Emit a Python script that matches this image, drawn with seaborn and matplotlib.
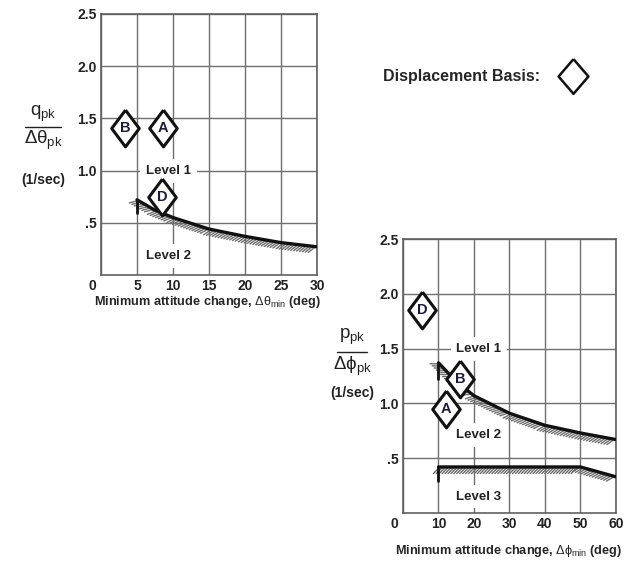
import matplotlib
matplotlib.use("Agg")
import matplotlib.pyplot as plt
import matplotlib.patheffects as pe
from matplotlib.lines import Line2D
from matplotlib.transforms import ScaledTranslation
import numpy as np
import seaborn as sns

# pitch chart (top left)
pitch_curve_x = [5, 7.5, 10, 15, 20, 25, 30]
pitch_curve_y = [0.72, 0.62, 0.55, 0.44, 0.37, 0.31, 0.27]
pitch_hook_x = [5, 5]
pitch_hook_y = [0.59, 0.72]
pitch_pts = ["B", "A", "D"]
pitch_x = [3.3, 8.6, 8.5]
pitch_y = [1.41, 1.41, 0.75]

# roll chart (bottom right)
roll_l1_x = [10, 15, 20, 30, 40, 50, 60]
roll_l1_y = [1.37, 1.20, 1.07, 0.91, 0.80, 0.73, 0.67]
roll_l1_hook_x = [10, 10]
roll_l1_hook_y = [1.22, 1.37]
roll_l2_x = [10, 50, 60]
roll_l2_y = [0.42, 0.42, 0.33]
roll_l2_hook_x = [10, 10]
roll_l2_hook_y = [0.29, 0.42]
roll_pts = ["D", "B", "A"]
roll_x = [5.3, 16.0, 12.1]
roll_y = [1.85, 1.22, 0.95]

sns.set_theme(style="white")
plt.rcParams["font.family"] = ["Liberation Sans", "DejaVu Sans"]
plt.rcParams["mathtext.fontset"] = "custom"
plt.rcParams["mathtext.rm"] = "Liberation Sans"
plt.rcParams["mathtext.it"] = "Liberation Sans"
plt.rcParams["mathtext.bf"] = "Liberation Sans:bold"

diamond = [(0, 1), (0.75, 0), (0, -1), (-0.75, 0), (0, 1)]
grid_c = "#707070"
hatch = [pe.TickedStroke(angle=-135, spacing=2.1, length=3.2, linewidth=1.0,
                         foreground="#6e6e6e"), pe.Normal()]

fig = plt.figure(figsize=(6.29, 5.62), dpi=100)
ax1 = fig.add_axes([0.1606, 0.5107, 0.3434, 0.4644])
ax2 = fig.add_axes([0.6407, 0.0872, 0.3386, 0.4875])


def style_axes(ax, xmax, xstep):
    ax.set_xlim(0, xmax)
    ax.set_ylim(0, 2.5)
    ax.set_xticks(np.arange(0, xmax + 1, xstep))
    ax.set_yticks([0.5, 1.0, 1.5, 2.0, 2.5])
    ax.set_yticklabels([".5", "1.0", "1.5", "2.0", "2.5"])
    ax.grid(True, color=grid_c, linewidth=1.0)
    ax.set_axisbelow(True)
    for s in ax.spines.values():
        s.set_color("#606060")
        s.set_linewidth(1.2)
    ax.tick_params(length=0, labelsize=10, pad=3, colors="#222222")
    for lab in ax.get_xticklabels() + ax.get_yticklabels():
        lab.set_fontweight("bold")
    first = ax.get_xticklabels()[0]
    first.set_transform(first.get_transform() + ScaledTranslation(-6 / 72, 0, fig.dpi_scale_trans))
    ax.set_xlabel("")
    ax.set_ylabel("")


def boundary(ax, x, y, hx, hy):
    sns.lineplot(x=x, y=y, ax=ax, color="#111111", linewidth=2.4,
                 path_effects=hatch, zorder=3, estimator=None, sort=False)
    sns.lineplot(x=hx, y=hy, ax=ax, color="#111111", linewidth=2.0,
                 zorder=3, estimator=None, sort=False)


def points(ax, names, x, y):
    sns.scatterplot(x=x, y=y, ax=ax, marker=diamond, s=700, facecolor="white",
                    edgecolor="#111111", linewidth=2.2, zorder=5)
    for n, xi, yi in zip(names, x, y):
        ax.text(xi, yi, n, ha="center", va="center", fontsize=10.5,
                fontweight="bold", color="#1c1c3a", zorder=6)


def level(ax, x, y, s):
    ax.text(x, y, s, ha="center", va="center", fontsize=9.5, color="#222222",
            fontweight="bold", zorder=4,
            bbox=dict(boxstyle="square,pad=0.45", fc="white", ec="none"))


# top chart
style_axes(ax1, 30, 5)
boundary(ax1, pitch_curve_x, pitch_curve_y, pitch_hook_x, pitch_hook_y)
level(ax1, 9.4, 1.0, "Level 1")
level(ax1, 9.4, 0.18, "Level 2")
points(ax1, pitch_pts, pitch_x, pitch_y)
ax1.set_xlim(0, 30)
ax1.set_ylim(0, 2.5)

# bottom chart
style_axes(ax2, 60, 10)
boundary(ax2, roll_l1_x, roll_l1_y, roll_l1_hook_x, roll_l1_hook_y)
boundary(ax2, roll_l2_x, roll_l2_y, roll_l2_hook_x, roll_l2_hook_y)
level(ax2, 21.4, 1.5, "Level 1")
level(ax2, 21.4, 0.71, "Level 2")
level(ax2, 21.4, 0.15, "Level 3")
points(ax2, roll_pts, roll_x, roll_y)
ax2.set_xlim(0, 60)
ax2.set_ylim(0, 2.5)


# y axis labels as fractions
def frac(xc, y_num, y_line, y_den, half, num, den, y_unit):
    fig.text(xc / 629, 1 - y_num / 562, num, ha="center", va="center", fontsize=13.5,
             color="#222222")
    fig.text(xc / 629, 1 - y_den / 562, den, ha="center", va="center", fontsize=13.5,
             color="#222222")
    fig.add_artist(Line2D([(xc - half) / 629, (xc + half) / 629],
                          [1 - y_line / 562, 1 - y_line / 562],
                          color="#222222", linewidth=1.0))
    fig.text(xc / 629, 1 - y_unit / 562, "(1/sec)", ha="center", va="center",
             fontsize=10, fontweight="bold", color="#222222")


frac(43, 114, 127, 140, 18, r"$\mathrm{q_{pk}}$", r"$\Delta\theta_{\mathrm{pk}}$", 180)
frac(352, 337, 352, 366, 15, r"$\mathrm{p_{pk}}$", r"$\Delta\phi_{\mathrm{pk}}$", 393)

fig.text(208 / 629, 1 - 302 / 562, r"Minimum attitude change, $\Delta\theta_{\mathrm{min}}$ (deg)",
         ha="center", va="center", fontsize=9.2, fontweight="bold")
fig.text(509 / 629, 1 - 551 / 562, r"Minimum attitude change, $\Delta\phi_{\mathrm{min}}$ (deg)",
         ha="center", va="center", fontsize=9.2, fontweight="bold")

# legend
fig.text(383 / 629, 1 - 76 / 562, "Displacement Basis:", ha="left", va="center",
         fontsize=11.5, fontweight="bold")
fig.add_artist(Line2D([573 / 629], [1 - 76 / 562], marker=[(0, 1), (0.86, 0), (0, -1), (-0.86, 0), (0, 1)],
                      markersize=25, markerfacecolor="white", markeredgecolor="#111111",
                      markeredgewidth=1.8, linestyle="none"))

fig.savefig("out.png", dpi=100)
